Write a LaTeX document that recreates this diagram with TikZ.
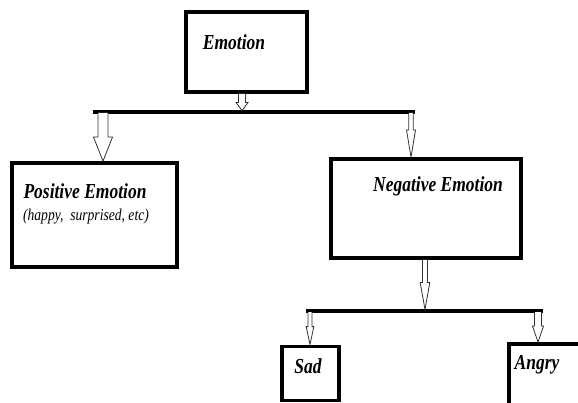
\documentclass[tikz,border=0pt]{standalone}
\usepackage{fontspec}
\usepackage{graphicx}
\setmainfont{Liberation Serif}
\usetikzlibrary{calc}
\newcommand\vtx[1]{\scalebox{1}[1.22]{#1}}
\newcommand\blockarrow[5]{%
  \draw[arrowline] ($(#1)+(-#3,0)$) -- ($(#2)+(-#3,-#5)$) -- ($(#2)+(-#4,-#5)$) -- (#2)
    -- ($(#2)+(#4,-#5)$) -- ($(#2)+(#3,-#5)$) -- ($(#1)+(#3,0)$);}
\begin{document}
\begin{tikzpicture}[x=1pt,y=-1pt,
  box/.style={draw=black,line width=3.8pt,fill=white,rectangle,inner sep=0pt},
  bar/.style={line width=3.4pt},
  arrowline/.style={draw=black!80,line width=0.8pt,fill=white,line join=miter},
  big/.style={font=\fontsize{17.5}{20}\selectfont\bfseries\itshape,inner sep=0pt},
  small/.style={font=\fontsize{13.6}{16}\selectfont\itshape,inner sep=0pt}]
\useasboundingbox (0,0) rectangle (578,403);
\clip (0,0) rectangle (578,403);
% boxes
\node[box,minimum width=121pt,minimum height=80pt] (emo) at (246.5,52) {};
\node[box,minimum width=165pt,minimum height=104pt] (pos) at (94.5,215) {};
\node[box,minimum width=190pt,minimum height=99pt] (neg) at (426,208.5) {};
\node[box,minimum width=57pt,minimum height=54pt] (sad) at (310.5,373.5) {};
\node[box,minimum width=112pt,minimum height=60.5pt] (ang) at (565,374.2) {};
% texts
\node[big] (temo) at (234,42) {\vtx{Emotion}};
\node[big] (tpos) at (85,191) {\vtx{Positive Emotion}};
\node[small] (tpos2) at (86,217) {\vtx{(happy,\ \ surprised, etc)}};
\node[big] (tneg) at (438,186) {\vtx{Negative Emotion}};
\node[big] (tsad) at (308,366) {\vtx{Sad}};
\node[big] (tang) at (537,365) {\vtx{Angry}};
% bars
\coordinate (b1l) at (93,112);
\coordinate (b1r) at (415,112);
\coordinate (b2l) at (306,311);
\coordinate (b2r) at (543,311);
\draw[bar] (b1l) -- (b1r);
\draw[bar] (b2l) -- (b2r);
% arrow end points
\coordinate (a1s) at (emo.south -| 242,0);
\coordinate (a1e) at (242,110.5);
\coordinate (a2s) at (103,113);
\coordinate (a2e) at (pos.north -| 103,0);
\coordinate (a3s) at (411,113);
\coordinate (a3e) at (neg.north -| 411,0);
\coordinate (a4s) at (neg.south -| 425,0);
\coordinate (a4e) at (425,309.5);
\coordinate (a5s) at (310,312);
\coordinate (a5e) at (sad.north -| 310,0);
\coordinate (a6s) at (538,312);
\coordinate (a6e) at (ang.north -| 538,0);
\blockarrow{a1s}{a1e}{3.5}{6}{8}
\blockarrow{a2s}{a2e}{5}{9.5}{24}
\blockarrow{a3s}{a3e}{2.2}{4.5}{27}
\blockarrow{a4s}{a4e}{2.5}{4.8}{27}
\blockarrow{a5s}{a5e}{2}{3.8}{18}
\blockarrow{a6s}{a6e}{3.5}{5.5}{16}
\end{tikzpicture}
\end{document}
